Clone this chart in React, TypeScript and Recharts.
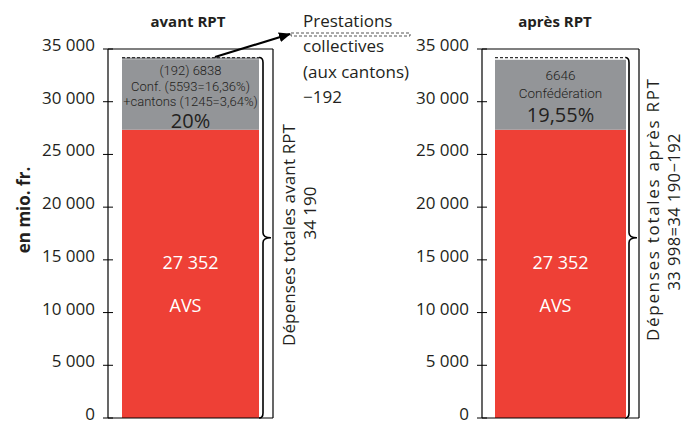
import { BarChart, Bar, XAxis, YAxis, ReferenceLine, ReferenceArea } from "recharts";

// valeurs (en mio. fr.)
const panels = ["avant RPT", "après RPT"];
const avsValues = [27352, 27352];
const grayValues = [6646, 6646];
const collectiveValues = [192, 192];
const yTicks = [0, 5000, 10000, 15000, 20000, 25000, 30000, 35000];

const grayLines = [
  ["(192) 6838", "Conf. (5593=16,36%)", "+cantons (1245=3,64%)", "20%"],
  ["6646", "Confédération", "19,55%"],
];
const avsName = "AVS";
const totalLines = [
  ["Dépenses totales avant RPT", "34 190"],
  ["Dépenses totales après RPT", "33 998=34 190−192"],
];
const noteLines = ["Prestations", "collectives", "(aux cantons)", "−192"];
const yLabel = "en mio. fr.";

const RED = "#ee4036";
const GRAY = "#939598";
const INK = "#231f20";
const FONT = "'Open Sans', 'Noto Sans', sans-serif";
const NARROW = "Roboto, 'Open Sans', sans-serif";

const fmt = (v: number) => String(v).replace(/\B(?=(\d{3})+(?!\d))/g, " ");

const LeftTick = (props: any) => {
  const { x, y, payload } = props;
  return (
    <g>
      <line x1={x - 5} x2={x + 5} y1={y} y2={y} stroke="#000" strokeWidth={1} />
      <text x={x - 13} y={y + 2} textAnchor="end" fontSize={17} fill={INK} fontFamily={FONT}>
        {fmt(payload.value)}
      </text>
    </g>
  );
};

const RightTick = (props: any) => {
  const { x, y } = props;
  return <line x1={x - 8} x2={x + 3} y1={y} y2={y} stroke="#000" strokeWidth={1} />;
};

// accolade à droite de la barre
const Brace = (props: any) => {
  const { x, y, width, height } = props;
  const right = x + width;
  const xv = right - 10;
  const x0 = right - 14;
  const xt = right - 2;
  const y1 = y;
  const y2 = y + height;
  const ym = (y1 + y2) / 2;
  const r = 5;
  const d = `M${x0},${y1} Q${xv},${y1} ${xv},${y1 + r} L${xv},${ym - r} Q${xv},${ym} ${xt},${ym} Q${xv},${ym} ${xv},${ym + r} L${xv},${y2 - r} Q${xv},${y2} ${x0},${y2}`;
  return <path d={d} fill="none" stroke="#000" strokeWidth={1.6} />;
};

interface PanelProps {
  i: number;
  left: number;
  width: number;
  marginRight: number;
  barSize: number;
  grayOffsets: number[];
  graySizes: number[];
  collectiveFill: string;
}

function Panel({ i, left, width, marginRight, barSize, grayOffsets, graySizes, collectiveFill }: PanelProps) {
  const data = [
    { name: panels[i], avs: avsValues[i], gray: grayValues[i], coll: collectiveValues[i] },
  ];

  const avsLabel = (p: any) => {
    const cx = p.x + p.width / 2;
    return (
      <g fontFamily={FONT} fill="#fff">
        <text x={cx} y={p.y + 132} textAnchor="middle" dominantBaseline="central" fontSize={18}>
          {fmt(p.value)}
        </text>
        <text x={cx - 5} y={p.y + 175} textAnchor="middle" dominantBaseline="central" fontSize={18}>
          {avsName}
        </text>
      </g>
    );
  };

  const grayLabel = (p: any) => {
    const cx = p.x + p.width / 2;
    return (
      <g fill={INK}>
        {grayLines[i].map((t, k) => (
          <text
            key={k}
            x={cx}
            y={p.y + grayOffsets[k]}
            textAnchor="middle"
            dominantBaseline="central"
            fontSize={graySizes[k]}
            fontFamily={graySizes[k] > 15 ? FONT : NARROW}
            fontWeight={graySizes[k] > 15 ? 400 : 300}
          >
            {t}
          </text>
        ))}
      </g>
    );
  };

  const collectiveShape = (p: any) => {
    const { x, y, width: w, height: h } = p;
    return (
      <g>
        <rect x={x} y={y} width={w} height={h} fill={collectiveFill} />
        <line x1={x} x2={x + w} y1={y} y2={y} stroke="#333" strokeWidth={1.3} strokeDasharray="3 2" />
      </g>
    );
  };

  return (
    <div style={{ position: "absolute", left, top: 0 }}>
      <BarChart
        width={width}
        height={421}
        data={data}
        margin={{ top: 49, right: marginRight, bottom: 3, left: 0 }}
        barCategoryGap={0}
      >
        <XAxis dataKey="name" hide />
        <YAxis
          domain={[0, 35000]}
          ticks={yTicks}
          width={108}
          interval={0}
          tickSize={0}
          tickMargin={0}
          axisLine={{ stroke: "#000", strokeWidth: 1.2 }}
          tickLine={false}
          tick={LeftTick}
        />
        <YAxis
          yAxisId="r"
          orientation="right"
          domain={[0, 35000]}
          ticks={yTicks}
          width={10}
          interval={0}
          tickSize={0}
          tickMargin={0}
          axisLine={{ stroke: "#000", strokeWidth: 1.2 }}
          tickLine={false}
          tick={RightTick}
        />
        <ReferenceLine y={35000} stroke="#000" strokeWidth={1.2} />
        <ReferenceLine y={0} stroke="#000" strokeWidth={1.2} />
        <Bar dataKey="avs" stackId="a" fill={RED} barSize={barSize} isAnimationActive={false} label={avsLabel} />
        <Bar dataKey="gray" stackId="a" fill={GRAY} barSize={barSize} isAnimationActive={false} label={grayLabel} />
        <Bar
          dataKey="coll"
          stackId="a"
          fill={collectiveFill}
          barSize={barSize}
          isAnimationActive={false}
          shape={collectiveShape}
        />
        <ReferenceArea
          y1={0}
          y2={avsValues[i] + grayValues[i] + collectiveValues[i]}
          fill="none"
          shape={Brace}
          ifOverflow="visible"
        />
      </BarChart>
    </div>
  );
}

export default function App() {
  return (
    <div
      style={{
        position: "absolute",
        left: 0,
        top: 0,
        width: 683,
        height: 421,
        background: "#fff",
        overflow: "hidden",
        fontFamily: FONT,
      }}
    >
      <Panel
        i={0}
        left={0}
        width={300}
        marginRight={17}
        barSize={137}
        grayOffsets={[10.5, 26.5, 41.5, 60.5]}
        graySizes={[13, 13, 13, 20]}
        collectiveFill={GRAY}
      />
      <Panel
        i={1}
        left={374}
        width={300}
        marginRight={25}
        barSize={131}
        grayOffsets={[15.5, 33, 54.5]}
        graySizes={[13.5, 13.5, 20]}
        collectiveFill="#fff"
      />

      <svg
        width={683}
        height={421}
        style={{ position: "absolute", left: 0, top: 0, pointerEvents: "none" }}
        fontFamily={FONT}
      >
        <defs>
          <marker id="arrow" markerWidth="12" markerHeight="10" refX="11" refY="5" orient="auto" markerUnits="userSpaceOnUse">
            <path d="M0,0 L12,5 L0,10 Z" fill="#000" />
          </marker>
        </defs>

        <text x={188} y={21} textAnchor="middle" dominantBaseline="central" fontSize={15} fontWeight={700} fill={INK}>
          {panels[0]}
        </text>
        <text x={555} y={21} textAnchor="middle" dominantBaseline="central" fontSize={15} fontWeight={700} fill={INK}>
          {panels[1]}
        </text>

        <text
          transform="translate(23,210) rotate(-90)"
          textAnchor="middle"
          dominantBaseline="central"
          fontSize={17}
          fontWeight={700}
          fill={INK}
        >
          {yLabel}
        </text>

        {/* flèche vers les prestations collectives */}
        <line x1={215} y1={57} x2={290} y2={34} stroke="#000" strokeWidth={2.2} markerEnd="url(#arrow)" />
        <rect x={291} y={33} width={119} height={3} fill="none" stroke="#555" strokeWidth={1} strokeDasharray="3 2" />
        {noteLines.map((t, k) => (
          <text key={k} x={303} y={20 + k * 25.5} dominantBaseline="central" fontSize={17} fill={INK}>
            {t}
          </text>
        ))}

        <text
          transform="translate(288,235) rotate(-90)"
          textAnchor="middle"
          dominantBaseline="central"
          fontSize={17}
          fill={INK}
          textLength={222}
          lengthAdjust="spacing"
        >
          {totalLines[0][0]}
        </text>
        <text transform="translate(309,213) rotate(-90)" textAnchor="middle" dominantBaseline="central" fontSize={17} fill={INK}>
          {totalLines[0][1]}
        </text>
        <text
          transform="translate(652,210) rotate(-90)"
          textAnchor="middle"
          dominantBaseline="central"
          fontSize={17}
          fill={INK}
          textLength={262}
          lengthAdjust="spacing"
        >
          {totalLines[1][0]}
        </text>
        <text
          transform="translate(673,212) rotate(-90)"
          textAnchor="middle"
          dominantBaseline="central"
          fontSize={16.5}
          fill={INK}
          textLength={157}
          lengthAdjust="spacing"
        >
          {totalLines[1][1]}
        </text>
      </svg>
    </div>
  );
}
